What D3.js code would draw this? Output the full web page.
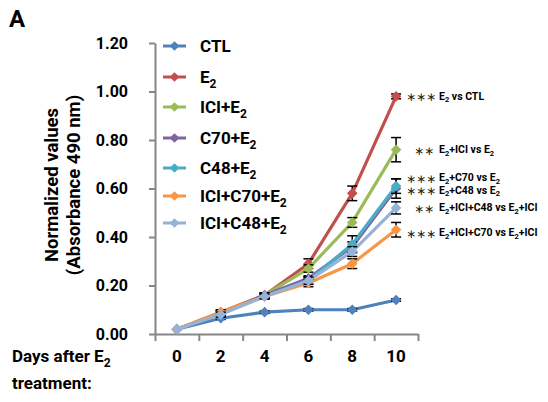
<!DOCTYPE html>
<html>
<head>
<meta charset="utf-8">
<script src="https://cdn.jsdelivr.net/npm/d3@7"></script>
<style>
  body { margin: 0; background: #fff; }
  svg { display: block; }
  svg text { font-family: Roboto, "Liberation Sans", sans-serif; font-weight: 700; }
</style>
</head>
<body>
<svg id="chart" width="548" height="402"></svg>
<script>
  // day labels on the x axis
  var days = ['0', '2', '4', '6', '8', '10'];
  var yTicks = [0, 0.2, 0.4, 0.6, 0.8, 1.0, 1.2];

  // series names: [main, subscript]
  var seriesNames = [
    ['CTL', ''],
    ['E', '2'],
    ['ICI+E', '2'],
    ['C70+E', '2'],
    ['C48+E', '2'],
    ['ICI+C70+E', '2'],
    ['ICI+C48+E', '2']
  ];
  var seriesColors = ['#4F81BD', '#C0504D', '#9BBB59', '#8064A2', '#4BACC6', '#F79646', '#95B3D7'];

  var ctl      = [0.02, 0.065, 0.09, 0.10, 0.10, 0.14];
  var e2       = [0.02, 0.09, 0.16, 0.29, 0.58, 0.98];
  var iciE2    = [0.02, 0.085, 0.16, 0.27, 0.46, 0.76];
  var c70E2    = [0.02, 0.085, 0.16, 0.23, 0.36, 0.60];
  var c48E2    = [0.02, 0.085, 0.155, 0.22, 0.37, 0.61];
  var iciC70E2 = [0.02, 0.09, 0.155, 0.21, 0.29, 0.43];
  var iciC48E2 = [0.02, 0.08, 0.155, 0.22, 0.34, 0.52];

  // error bar half-widths
  var ctlErr      = [0, 0.005, 0.005, 0.005, 0.005, 0.005];
  var e2Err       = [0, 0.01, 0.01, 0.02, 0.03, 0.01];
  var iciE2Err    = [0, 0.01, 0.01, 0.015, 0.02, 0.05];
  var c70E2Err    = [0, 0.01, 0.01, 0.01, 0.02, 0.04];
  var c48E2Err    = [0, 0.01, 0.01, 0.015, 0.035, 0.03];
  var iciC70E2Err = [0, 0.01, 0.01, 0.015, 0.02, 0.03];
  var iciC48E2Err = [0, 0.01, 0.01, 0.015, 0.02, 0.025];

  var seriesValues = [ctl, e2, iciE2, c70E2, c48E2, iciC70E2, iciC48E2];
  var seriesErrors = [ctlErr, e2Err, iciE2Err, c70E2Err, c48E2Err, iciC70E2Err, iciC48E2Err];

  // significance notes at day 10: [stars, series index, text parts]
  var notes = [
    ['***', 1, [['E', ''], ['2', 'sub'], [' vs CTL', '']]],
    ['**', 2, [['E', ''], ['2', 'sub'], ['+ICI vs E', ''], ['2', 'sub']]],
    ['***', 3, [['E', ''], ['2', 'sub'], ['+C70 vs E', ''], ['2', 'sub']]],
    ['***', 4, [['E', ''], ['2', 'sub'], ['+C48 vs E', ''], ['2', 'sub']]],
    ['**', 6, [['E', ''], ['2', 'sub'], ['+ICI+C48 vs E', ''], ['2', 'sub'], ['+ICI', '']]],
    ['***', 5, [['E', ''], ['2', 'sub'], ['+ICI+C70 vs E', ''], ['2', 'sub'], ['+ICI', '']]]
  ];

  var svg = d3.select('#chart');
  var axisColor = '#868686';

  var xBand = d3.scaleBand().domain(days).range([155, 418]).padding(0);
  var xc = function (d) { return xBand(d) + xBand.bandwidth() / 2; };
  var y = d3.scaleLinear().domain([0, 1.2]).range([334, 43]);

  // panel letter
  svg.append('text').attr('x', 9).attr('y', 27).style('font-size', '24px').text('A');

  // y axis
  var yAxis = svg.append('g')
    .attr('transform', 'translate(155,0)')
    .call(d3.axisLeft(y).tickValues(yTicks).tickFormat(d3.format('.2f')).tickSize(6).tickSizeOuter(0).tickPadding(21));
  yAxis.select('.domain').attr('stroke', axisColor).attr('stroke-width', 2);
  yAxis.selectAll('.tick line').attr('stroke', axisColor).attr('stroke-width', 2);
  yAxis.selectAll('.tick text').attr('fill', '#000').style('font-size', '16px');

  // x axis: ticks between categories
  var xEdge = d3.scaleLinear().domain([0, days.length]).range([155, 418]);
  var xAxis = svg.append('g')
    .attr('transform', 'translate(0,334)')
    .call(d3.axisBottom(xEdge).tickValues(d3.range(days.length + 1)).tickFormat('').tickSize(7).tickSizeOuter(0));
  xAxis.select('.domain').attr('stroke', axisColor).attr('stroke-width', 2);
  xAxis.selectAll('.tick line').attr('stroke', axisColor).attr('stroke-width', 2);

  svg.append('g').selectAll('text').data(days).enter().append('text')
    .attr('x', xc).attr('y', 362).attr('text-anchor', 'middle')
    .style('font-size', '17px').text(function (d) { return d; });

  var dayTitle = svg.append('text').attr('x', 12).attr('y', 362).style('font-size', '17px');
  dayTitle.append('tspan').text('Days after E');
  dayTitle.append('tspan').attr('dy', 5).style('font-size', '12px').text('2');
  svg.append('text').attr('x', 12).attr('y', 389).style('font-size', '17px').text('treatment:');

  // y title
  var yTitle = svg.append('g').attr('transform', 'translate(0,185) rotate(-90)');
  yTitle.append('text').attr('x', 0).attr('y', 58).attr('text-anchor', 'middle')
    .style('font-size', '18.5px').text('Normalized values');
  yTitle.append('text').attr('x', 0).attr('y', 80).attr('text-anchor', 'middle')
    .style('font-size', '18.5px').text('(Absorbance 490 nm)');

  var line = d3.line()
    .x(function (d, i) { return xc(days[i]); })
    .y(function (d) { return y(d); });

  var diamond = d3.symbol().type(d3.symbolDiamond2).size(72);

  seriesValues.forEach(function (vals, s) {
    var g = svg.append('g');
    var errs = seriesErrors[s];
    g.append('path').datum(vals).attr('d', line)
      .attr('fill', 'none').attr('stroke', seriesColors[s]).attr('stroke-width', 3.2)
      .attr('stroke-linejoin', 'round');

    var pts = vals.map(function (v, i) { return { day: days[i], v: v, e: errs[i] }; });
    var eb = g.selectAll('.err').data(pts.filter(function (p) { return p.e > 0; })).enter().append('g')
      .attr('transform', function (p) { return 'translate(' + xc(p.day) + ',0)'; });
    eb.append('line')
      .attr('y1', function (p) { return y(p.v - p.e); })
      .attr('y2', function (p) { return y(p.v + p.e); })
      .attr('stroke', '#000').attr('stroke-width', 1.5);
    [-1, 1].forEach(function (sgn) {
      eb.append('line')
        .attr('x1', -5).attr('x2', 5)
        .attr('y1', function (p) { return y(p.v + sgn * p.e); })
        .attr('y2', function (p) { return y(p.v + sgn * p.e); })
        .attr('stroke', '#000').attr('stroke-width', 1.5);
    });

    g.selectAll('.pt').data(pts).enter().append('path')
      .attr('d', diamond)
      .attr('transform', function (p) { return 'translate(' + xc(p.day) + ',' + y(p.v) + ')'; })
      .attr('fill', seriesColors[s]);
  });

  // legend
  var legendRows = [46, 77, 107, 138, 168, 196, 223];
  var legend = svg.append('g');
  seriesNames.forEach(function (n, i) {
    var row = legend.append('g').attr('transform', 'translate(0,' + legendRows[i] + ')');
    row.append('line').attr('x1', 163).attr('x2', 186).attr('stroke', seriesColors[i]).attr('stroke-width', 3);
    row.append('path').attr('d', d3.symbol().type(d3.symbolDiamond2).size(60))
      .attr('transform', 'translate(174.5,0)').attr('fill', seriesColors[i]);
    var t = row.append('text').attr('x', 200).attr('y', 6).style('font-size', '17px');
    t.append('tspan').text(n[0]);
    if (n[1]) t.append('tspan').attr('dy', 5).style('font-size', '12px').text(n[1]);
  });

  // significance notes
  var noteNudge = [0, 0, -11, 4, 0, 3];
  notes.forEach(function (n, k) {
    var yy = y(seriesValues[n[1]][days.length - 1]) + noteNudge[k];
    var starX = n[0].length === 3 ? 406 : 414;
    svg.append('text').attr('x', starX).attr('y', yy + 5)
      .style('font-size', '12px').style('font-family', 'DejaVu Sans, sans-serif').style('font-weight', '400')
      .attr('fill', '#222')
      .text(n[0].replace(/\*/g, '\u2217'));
    var t = svg.append('text').attr('x', 439).attr('y', yy + 3.5).style('font-size', '10.5px');
    var shifted = false;
    n[2].forEach(function (p) {
      if (p[1] === 'sub') {
        t.append('tspan').attr('dy', 2.5).style('font-size', '7.5px').text(p[0]);
        shifted = true;
      } else {
        t.append('tspan').attr('dy', shifted ? -2.5 : 0).text(p[0]);
        shifted = false;
      }
    });
  });
</script>
</body>
</html>
